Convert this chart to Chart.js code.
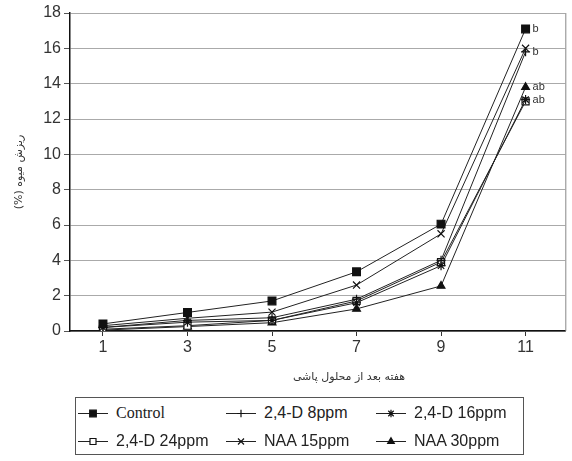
<!DOCTYPE html>
<html>
<head>
<meta charset="utf-8">
<script src="https://cdn.jsdelivr.net/npm/chart.js@4.4.0/dist/chart.umd.min.js"></script>
<style>
  body { margin: 0; background: #fff; }
  #wrap { position: relative; width: 572px; height: 461px; }
  #chart { position: absolute; left: 0; top: 0; }
  #legend {
    position: absolute; left: 75px; top: 397px; width: 449px; height: 58px;
    border: 1px solid #555; box-sizing: border-box;
    display: grid; grid-template-columns: 148px 150px auto; grid-template-rows: 28px 28px;
    padding: 1px 0 0 0; font-family: "Liberation Sans", Arial, sans-serif; font-size: 16px; color: #222;
  }
  .item { display: flex; align-items: center; white-space: nowrap; }
  .item canvas { margin-right: 6px; }
</style>
</head>
<body>
<div id="wrap">
  <canvas id="chart" width="572" height="392"></canvas>
  <div id="legend"></div>
</div>
<script>
const weeks = [1, 3, 5, 7, 9, 11];
const seriesNames = ["Control", "2,4-D 8ppm", "2,4-D 16ppm", "2,4-D 24ppm", "NAA 15ppm", "NAA 30ppm"];
const control = [0.4, 1.05, 1.7, 3.35, 6.05, 17.1];
const d8ppm = [0.2, 0.6, 0.75, 1.8, 4.0, 15.8];
const d16ppm = [0.2, 0.5, 0.6, 1.6, 3.7, 13.1];
const d24ppm = [0.1, 0.3, 0.6, 1.7, 3.9, 13.0];
const naa15ppm = [0.3, 0.72, 1.07, 2.6, 5.5, 16.0];
const naa30ppm = [0.05, 0.25, 0.47, 1.25, 2.55, 13.8];
const endLetters = ["b", "b", "ab", "", "", "ab"];
const yTicks = [0, 2, 4, 6, 8, 10, 12, 14, 16, 18];

const allValues = [control, d8ppm, d16ppm, d24ppm, naa15ppm, naa30ppm];
const markers = [
  { style: "rect", radius: 5.5, fill: "#111" },
  { style: "cross", radius: 4.5, fill: "#111" },
  { style: "star", radius: 4.5, fill: "#111" },
  { style: "rect", radius: 5, fill: "#fff" },
  { style: "crossRot", radius: 5, fill: "#111" },
  { style: "triangle", radius: 4.5, fill: "#111" }
];

const datasets = allValues.map((vals, i) => ({
  label: seriesNames[i],
  data: vals.map((v, j) => ({ x: weeks[j], y: v })),
  borderColor: "#222",
  borderWidth: 1,
  pointStyle: markers[i].style,
  pointRadius: markers[i].radius,
  pointBackgroundColor: markers[i].fill,
  pointBorderColor: "#111",
  pointBorderWidth: 1.2,
  tension: 0
}));

const extras = {
  id: "extras",
  afterDatasetsDraw(chart) {
    const ctx = chart.ctx;
    const area = chart.chartArea;
    ctx.save();
    // right frame line
    ctx.strokeStyle = "#888";
    ctx.lineWidth = 1;
    ctx.beginPath();
    ctx.moveTo(area.right + 0.5, area.top);
    ctx.lineTo(area.right + 0.5, area.bottom);
    ctx.stroke();
    // letters at last points
    ctx.fillStyle = "#333";
    ctx.font = "11px 'Liberation Sans', Arial, sans-serif";
    ctx.textBaseline = "middle";
    endLetters.forEach((txt, i) => {
      if (!txt) return;
      const meta = chart.getDatasetMeta(i);
      const pt = meta.data[meta.data.length - 1];
      ctx.fillText(txt, pt.x + 7, pt.y);
    });
    // x axis title
    ctx.font = "11px 'DejaVu Sans', sans-serif";
    ctx.textAlign = "center";
    ctx.direction = "rtl";
    ctx.fillText("هفته بعد از محلول پاشی", 349, 377);
    ctx.restore();
  }
};

new Chart(document.getElementById("chart"), {
  type: "line",
  data: { datasets: datasets },
  options: {
    responsive: false,
    animation: false,
    layout: { padding: { top: 13, right: 3, left: 13, bottom: 0 } },
    plugins: { legend: { display: false }, tooltip: { enabled: false } },
    scales: {
      x: {
        type: "linear",
        min: 0.22,
        max: 11.94,
        afterBuildTicks: (scale) => { scale.ticks = weeks.map((w) => ({ value: w })); },
        afterFit: (scale) => { scale.height = 61; },
        grid: { drawOnChartArea: false, drawTicks: true, tickLength: 5, color: "#333" },
        border: { color: "#111", width: 1.5 },
        ticks: {
          color: "#333",
          padding: 2,
          font: { family: "'Liberation Sans', Arial, sans-serif", size: 16 },
          callback: (v) => String(v)
        }
      },
      y: {
        min: 0,
        max: 18,
        afterBuildTicks: (scale) => { scale.ticks = yTicks.map((v) => ({ value: v })); },
        afterFit: (scale) => { scale.width = 57; },
        grid: { color: "#aaa", borderDash: [4, 2], tickLength: 6, tickColor: "#555", tickBorderDash: [] },
        border: { color: "#111", width: 1.5 },
        ticks: {
          color: "#333",
          padding: 3,
          font: { family: "'Liberation Sans', Arial, sans-serif", size: 16 }
        },
        title: {
          display: true,
          text: "\u200Fریزش میوه (%)\u200F",
          color: "#333",
          padding: { top: 0, bottom: 2 },
          font: { family: "'DejaVu Sans', sans-serif", size: 11 }
        }
      }
    }
  },
  plugins: [extras]
});

// legend with line + marker icons
const legendBox = document.getElementById("legend");
seriesNames.forEach((name, i) => {
  const item = document.createElement("div");
  item.className = "item";
  const icon = document.createElement("canvas");
  icon.width = 34;
  icon.height = 16;
  const c = icon.getContext("2d");
  c.strokeStyle = "#222";
  c.lineWidth = 1;
  c.beginPath();
  c.moveTo(2, 8.5);
  c.lineTo(32, 8.5);
  c.stroke();
  c.fillStyle = markers[i].fill;
  c.strokeStyle = "#111";
  c.lineWidth = 1.2;
  Chart.helpers.drawPoint(c, { pointStyle: markers[i].style, radius: markers[i].radius * 0.85, rotation: 0, borderWidth: 1.2 }, 17, 8.5);
  item.appendChild(icon);
  const label = document.createElement("span");
  label.textContent = name;
  if (i === 0) label.style.fontFamily = "'Liberation Serif', 'Times New Roman', serif";
  item.appendChild(label);
  legendBox.appendChild(item);
});
</script>
</body>
</html>
